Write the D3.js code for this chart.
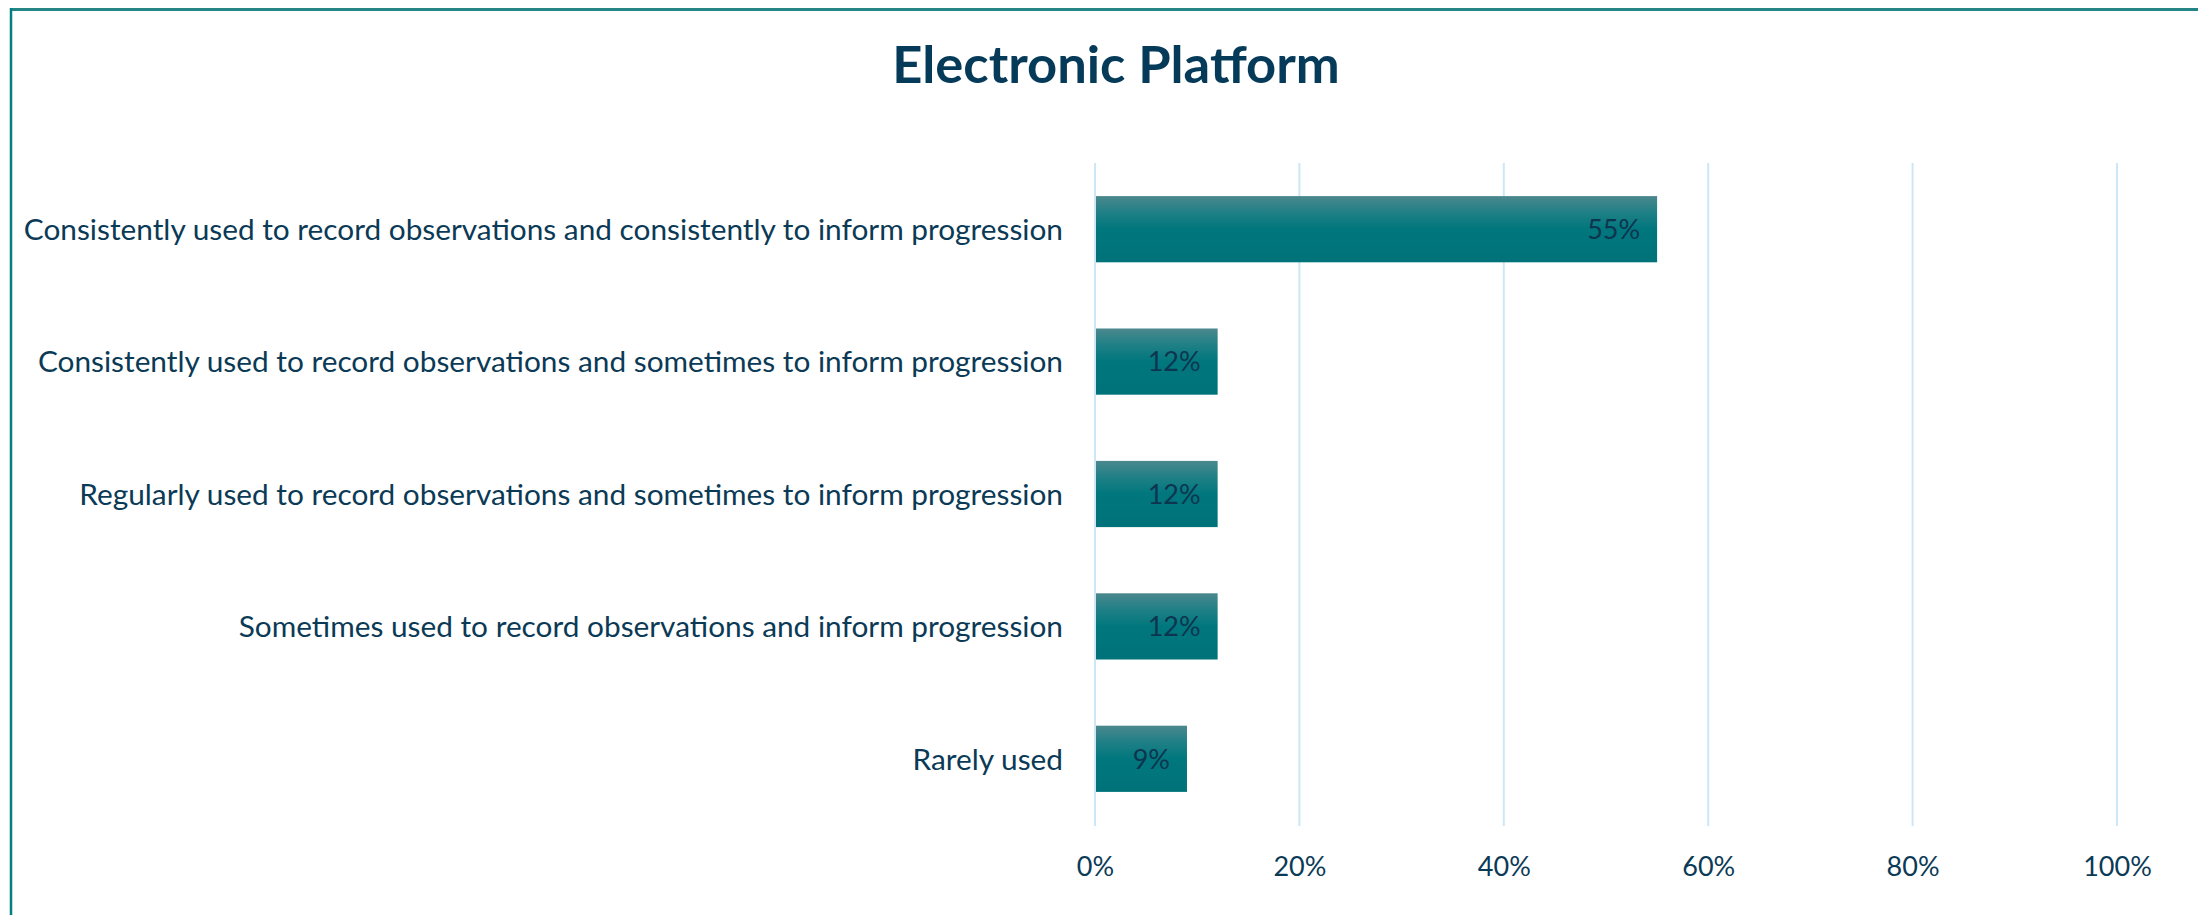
<!DOCTYPE html>
<html>
<head>
<meta charset="utf-8">
<script src="https://cdn.jsdelivr.net/npm/d3@7"></script>
<style>
  html, body { margin: 0; padding: 0; background: #ffffff; }
  svg { display: block; }
</style>
</head>
<body>
<svg id="chart" width="2198" height="915"></svg>
<script>
// Survey responses: how the electronic platform is used
const categories = [
  "Consistently used to record observations and consistently to inform progression",
  "Consistently used to record observations and sometimes to inform progression",
  "Regularly used to record observations and sometimes to inform progression",
  "Sometimes used to record observations and inform progression",
  "Rarely used"
];
const shares = [0.55, 0.12, 0.12, 0.12, 0.09];
const shareLabels = ["55%", "12%", "12%", "12%", "9%"];
const tickValues = [0, 0.2, 0.4, 0.6, 0.8, 1.0];
const tickLabels = ["0%", "20%", "40%", "60%", "80%", "100%"];
const chartTitle = "Electronic Platform";

const W = 2198, H = 915;
const svg = d3.select("#chart");
const textColor = "#0b3a56";
const font = "Lato, 'Noto Sans', sans-serif";

// Frame: teal rule along the top and left edges
svg.append("line").attr("x1", 10).attr("x2", W).attr("y1", 9.5).attr("y2", 9.5)
  .attr("stroke", "#238585").attr("stroke-width", 3);
svg.append("line").attr("x1", 11).attr("x2", 11).attr("y1", 8).attr("y2", H)
  .attr("stroke", "#008080").attr("stroke-width", 2.5);

// Bar fill: grey-teal at the top fading into solid teal
const defs = svg.append("defs");
const grad = defs.append("linearGradient").attr("id", "barFill")
  .attr("x1", 0).attr("x2", 0).attr("y1", 0).attr("y2", 1);
grad.append("stop").attr("offset", "0%").attr("stop-color", "#4b888d");
grad.append("stop").attr("offset", "25%").attr("stop-color", "#1f8086");
grad.append("stop").attr("offset", "50%").attr("stop-color", "#00777d");
grad.append("stop").attr("offset", "100%").attr("stop-color", "#007279");

const x = d3.scaleLinear().domain([0, 1]).range([1095, 2117]);
const y = d3.scaleBand().domain(categories).range([163, 825]).paddingInner(0.5).paddingOuter(0.25);

// Vertical gridlines
svg.append("g").selectAll("line").data(tickValues).join("line")
  .attr("x1", d => x(d)).attr("x2", d => x(d))
  .attr("y1", 163).attr("y2", 826)
  .attr("stroke", "#cbe7f8").attr("stroke-width", 2);

// Bottom axis labels
const xAxis = d3.axisBottom(x).tickValues(tickValues)
  .tickFormat((d, i) => tickLabels[i]).tickSize(0).tickPadding(0);
const gx = svg.append("g").attr("transform", "translate(0,857)").call(xAxis);
gx.select(".domain").remove();
gx.selectAll("text")
  .attr("dy", "0.72em")
  .attr("fill", textColor)
  .style("font-family", font)
  .style("font-size", "27px");

// Bars
svg.append("g").selectAll("rect").data(categories).join("rect")
  .attr("x", x(0) + 1)
  .attr("y", d => y(d))
  .attr("width", (d, i) => x(shares[i]) - x(0) - 1)
  .attr("height", y.bandwidth())
  .attr("fill", "url(#barFill)");

// Value labels, right-aligned inside each bar
svg.append("g").selectAll("text").data(categories).join("text")
  .attr("x", (d, i) => x(shares[i]) - 17)
  .attr("y", d => y(d) + y.bandwidth() / 2)
  .attr("dy", "0.36em")
  .attr("text-anchor", "end")
  .attr("fill", "#0d3550")
  .style("font-family", font)
  .style("font-size", "27px")
  .text((d, i) => shareLabels[i]);

// Category labels on the left
const yAxis = d3.axisLeft(y).tickSize(0).tickPadding(0);
const gy = svg.append("g").attr("transform", "translate(1063,0)").call(yAxis);
gy.select(".domain").remove();
gy.selectAll("text")
  .attr("dy", "0.36em")
  .attr("fill", textColor)
  .style("font-family", font)
  .style("font-size", "29.8px");

// Title
svg.append("text")
  .attr("x", 1116).attr("y", 83)
  .attr("text-anchor", "middle")
  .attr("fill", "#053a58")
  .style("font-family", font)
  .style("font-weight", "bold")
  .style("font-size", "52.5px")
  .text(chartTitle);
</script>
</body>
</html>
